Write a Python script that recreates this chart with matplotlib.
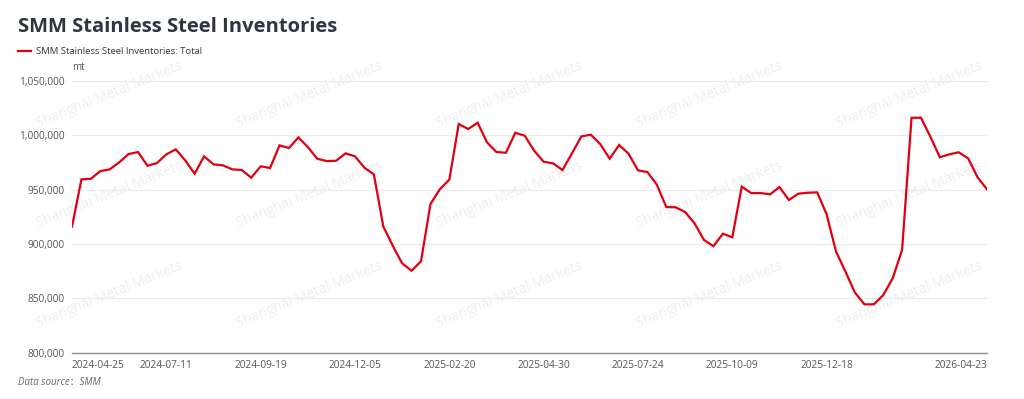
import matplotlib.pyplot as plt
from matplotlib.ticker import FuncFormatter

# weekly total inventories, mt
inventory = [
    916000, 959500, 960000, 967100, 968700, 975100, 982800, 984600, 972000, 974500,
    982500, 987100, 977000, 964700, 980700, 973300, 972400, 968700, 968100, 961000,
    971500, 969900, 990800, 988300, 998100, 989200, 978500, 976300, 976600, 983400,
    980700, 970200, 964100, 916200, 898500, 882200, 875400, 884100, 936800, 950500,
    959200, 1010400, 1005800, 1011600, 993500, 984600, 984000, 1002400, 999600, 985800,
    975700, 974200, 968100, 983400, 999000, 1000600, 992000, 978500, 991100, 983100,
    967800, 966200, 954600, 934000, 933800, 929400, 919000, 903700, 898000, 909500,
    906200, 952800, 946900, 946900, 945700, 952400, 940500, 946300, 947200, 947500,
    927300, 892900, 874500, 855300, 844500, 844500, 853000, 868400, 894500, 1016200,
    1016200, 998700, 979800, 982500, 984400, 978800, 961400, 950300,
]
tick_labels = ['2024-04-25', '2024-07-11', '2024-09-19', '2024-12-05', '2025-02-20',
               '2025-04-30', '2025-07-24', '2025-10-09', '2025-12-18', '2026-04-23']
y_ticks = [800000, 850000, 900000, 950000, 1000000, 1050000]

W, H = 1024, 399
fig = plt.figure(figsize=(W / 100, H / 100), dpi=100)
ax = fig.add_axes([72 / W, 1 - 352.7 / H, (987 - 72) / W, (352.7 - 81) / H])
ax.patch.set_alpha(0)

# watermark grid
for cx in [110, 310, 510, 710, 910]:
    for cy in [95, 195, 295]:
        fig.text(cx / W, 1 - cy / H, 'Shanghai Metal Markets', rotation=22,
                 ha='center', va='center', fontsize=10, color='#efefef',
                 family='Open Sans', zorder=-1)

x = list(range(len(inventory)))
ax.plot(x, inventory, color='#e0000f', lw=1.6,
        label='SMM Stainless Steel Inventories: Total', solid_joinstyle='miter')

ax.set_xlim(0, len(inventory) - 1)
ax.set_ylim(y_ticks[0], y_ticks[-1])
ax.set_yticks(y_ticks)
ax.yaxis.set_major_formatter(FuncFormatter(lambda v, p: f'{int(v):,}'))

pos = list(range(0, 10 * (len(tick_labels) - 1), 10)) + [len(inventory) - 1]
ax.set_xticks(pos)
ax.set_xticklabels(tick_labels)
labels = ax.get_xticklabels()
labels[0].set_ha('left')
labels[-1].set_ha('right')

ax.grid(axis='y', color='#ebebeb', lw=0.9)
ax.set_axisbelow(True)
for s in ['top', 'right', 'left']:
    ax.spines[s].set_visible(False)
ax.spines['bottom'].set_color('#8e94a0')
ax.spines['bottom'].set_linewidth(1.0)
ax.tick_params(length=0, labelsize=7.3, labelcolor='#555555', pad=5)
for t in ax.get_xticklabels() + ax.get_yticklabels():
    t.set_family('Open Sans')

ax.text(0, 1.03, 'mt', transform=ax.transAxes, fontsize=7, color='#555555',
        family='Open Sans', va='bottom')

fig.text(18 / W, 1 - 27 / H, 'SMM Stainless Steel Inventories', fontsize=14.5,
         fontweight='bold', color='#2f3541', family='Open Sans', va='center')
ax.legend(loc='center left', bbox_to_anchor=(18 / W, 1 - 52 / H),
          bbox_transform=fig.transFigure, frameon=False, handlelength=1.4,
          handletextpad=0.5, prop={'family': 'Open Sans', 'size': 6.8},
          labelcolor='#333333', borderaxespad=0, borderpad=0)
fig.text(18 / W, 1 - 382 / H, 'Data source：SMM', fontsize=7, style='italic',
         color='#666666', family=['Open Sans', 'Noto Sans CJK SC'], va='center')

fig.savefig('out.png', dpi=100)
